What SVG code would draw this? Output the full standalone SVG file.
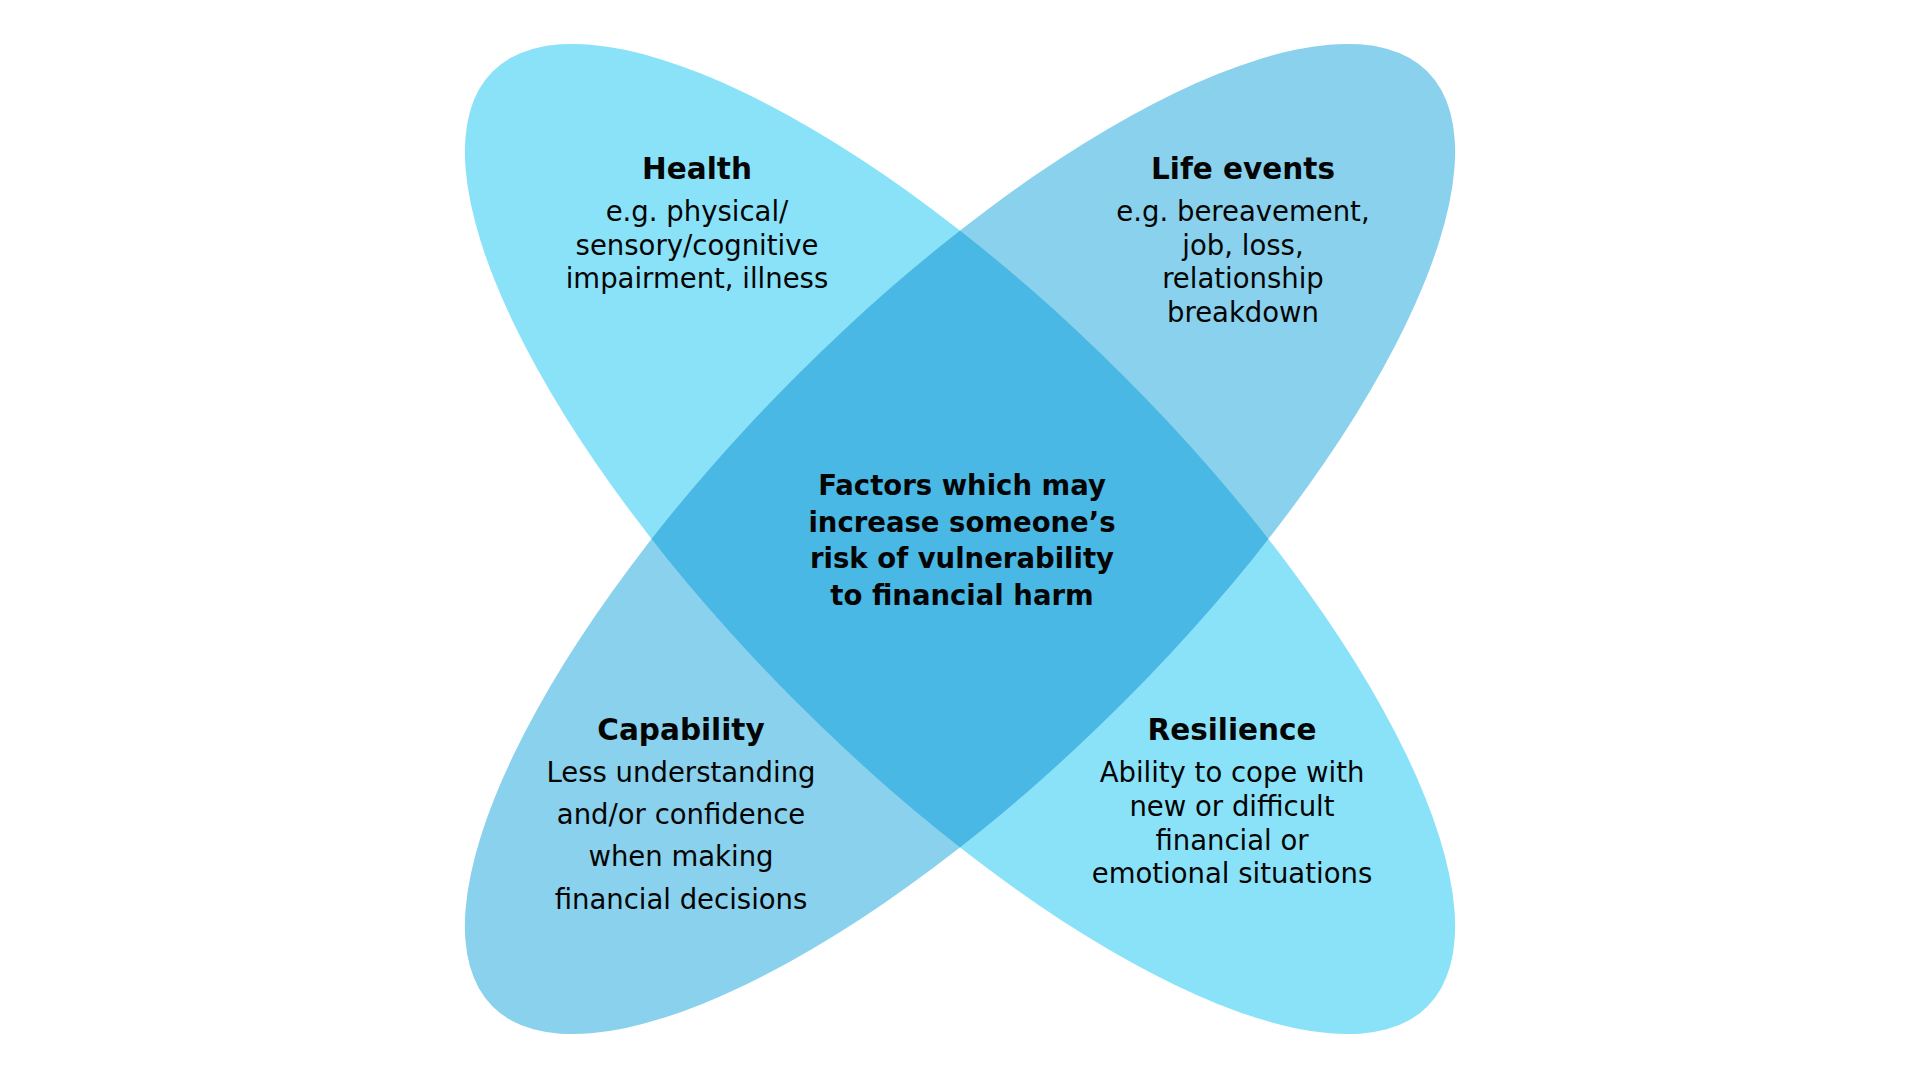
<svg xmlns="http://www.w3.org/2000/svg" width="1920" height="1080" viewBox="0 0 1920 1080">
<style>
.h{font-family:"DejaVu Sans","Liberation Sans",sans-serif;font-weight:bold;font-size:29.5px;fill:#050505;text-anchor:middle}
.c{font-family:"DejaVu Sans","Liberation Sans",sans-serif;font-weight:bold;font-size:27.5px;fill:#050505;text-anchor:middle}
.b{font-family:"DejaVu Sans","Liberation Sans",sans-serif;font-size:27.5px;fill:#050505;text-anchor:middle}
</style>
<defs>
<clipPath id="clipB"><ellipse cx="960" cy="539" rx="661" ry="231" transform="rotate(-45 960 539)"/></clipPath>
</defs>
<rect width="1920" height="1080" fill="#ffffff"/>
<g id="shapes">
<ellipse id="ellipse-health-resilience" cx="960" cy="539" rx="661" ry="231" transform="rotate(45 960 539)" fill="#8AE2F9"/>
<ellipse id="ellipse-life-capability" cx="960" cy="539" rx="661" ry="231" transform="rotate(-45 960 539)" fill="#89D1EC"/>
<g id="overlap" clip-path="url(#clipB)">
<ellipse cx="960" cy="539" rx="661" ry="231" transform="rotate(45 960 539)" fill="#4AB8E5"/>
</g>
</g>
<g id="connectors"/>
<g id="node-health">
<text class="h" x="697" y="179">Health</text>
<text class="b" x="697" y="221">e.g. physical/</text>
<text class="b" x="697" y="254.5">sensory/cognitive</text>
<text class="b" x="697" y="288">impairment, illness</text>
</g>
<g id="node-life-events">
<text class="h" x="1243" y="179">Life events</text>
<text class="b" x="1243" y="221">e.g. bereavement,</text>
<text class="b" x="1243" y="254.5">job, loss,</text>
<text class="b" x="1243" y="288">relationship</text>
<text class="b" x="1243" y="321.5">breakdown</text>
</g>
<g id="node-center">
<text class="c" x="962" y="495">Factors which may</text>
<text class="c" x="962" y="531.7">increase someone’s</text>
<text class="c" x="962" y="568.3">risk of vulnerability</text>
<text class="c" x="962" y="605">to financial harm</text>
</g>
<g id="node-capability">
<text class="h" x="681" y="740">Capability</text>
<text class="b" x="681" y="782">Less understanding</text>
<text class="b" x="681" y="824">and/or confidence</text>
<text class="b" x="681" y="866">when making</text>
<text class="b" x="681" y="909">financial decisions</text>
</g>
<g id="node-resilience">
<text class="h" x="1232" y="740">Resilience</text>
<text class="b" x="1232" y="782">Ability to cope with</text>
<text class="b" x="1232" y="816">new or difficult</text>
<text class="b" x="1232" y="849.5">financial or</text>
<text class="b" x="1232" y="883">emotional situations</text>
</g>
</svg>
